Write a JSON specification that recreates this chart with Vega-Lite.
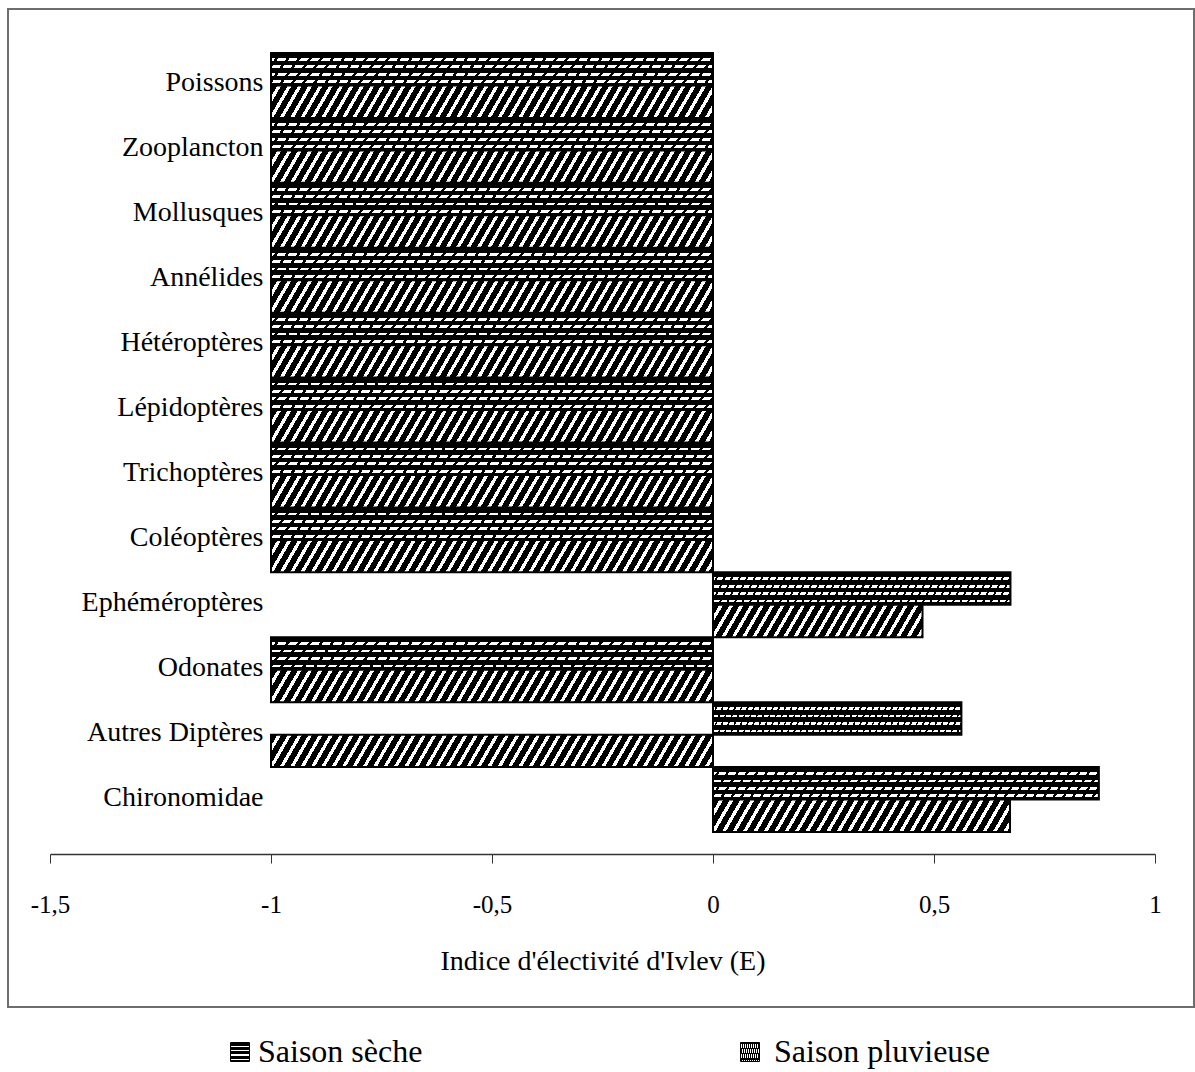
{
  "$schema": "https://vega.github.io/schema/vega-lite/v6.json",
  "autosize": {"type": "none"},
  "width": 1186,
  "height": 998,
  "padding": {"left": 8, "top": 9, "right": 1, "bottom": 65},
  "background": "#ffffff",
  "config": {
    "font": "Liberation Serif",
    "view": {"stroke": "#6e6e6e", "strokeWidth": 2},
    "axis": {"labelFont": "Liberation Serif", "titleFont": "Liberation Serif", "labelColor": "#000", "titleColor": "#000"},
    "legend": {"labelFont": "Liberation Serif", "labelColor": "#000"}
  },
  "data": {
    "values": [
      {"Categorie": "Poissons", "Saison": "Saison sèche", "E": -1},
      {"Categorie": "Poissons", "Saison": "Saison pluvieuse", "E": -1},
      {"Categorie": "Zooplancton", "Saison": "Saison sèche", "E": -1},
      {"Categorie": "Zooplancton", "Saison": "Saison pluvieuse", "E": -1},
      {"Categorie": "Mollusques", "Saison": "Saison sèche", "E": -1},
      {"Categorie": "Mollusques", "Saison": "Saison pluvieuse", "E": -1},
      {"Categorie": "Annélides", "Saison": "Saison sèche", "E": -1},
      {"Categorie": "Annélides", "Saison": "Saison pluvieuse", "E": -1},
      {"Categorie": "Hétéroptères", "Saison": "Saison sèche", "E": -1},
      {"Categorie": "Hétéroptères", "Saison": "Saison pluvieuse", "E": -1},
      {"Categorie": "Lépidoptères", "Saison": "Saison sèche", "E": -1},
      {"Categorie": "Lépidoptères", "Saison": "Saison pluvieuse", "E": -1},
      {"Categorie": "Trichoptères", "Saison": "Saison sèche", "E": -1},
      {"Categorie": "Trichoptères", "Saison": "Saison pluvieuse", "E": -1},
      {"Categorie": "Coléoptères", "Saison": "Saison sèche", "E": -1},
      {"Categorie": "Coléoptères", "Saison": "Saison pluvieuse", "E": -1},
      {"Categorie": "Ephéméroptères", "Saison": "Saison sèche", "E": 0.673},
      {"Categorie": "Ephéméroptères", "Saison": "Saison pluvieuse", "E": 0.474},
      {"Categorie": "Odonates", "Saison": "Saison sèche", "E": -1},
      {"Categorie": "Odonates", "Saison": "Saison pluvieuse", "E": -1},
      {"Categorie": "Autres Diptères", "Saison": "Saison sèche", "E": 0.562},
      {"Categorie": "Autres Diptères", "Saison": "Saison pluvieuse", "E": -1},
      {"Categorie": "Chironomidae", "Saison": "Saison sèche", "E": 0.873},
      {"Categorie": "Chironomidae", "Saison": "Saison pluvieuse", "E": 0.672}
    ]
  },
  "encoding": {
    "y": {
      "field": "Categorie", "type": "nominal",
      "sort": ["Poissons", "Zooplancton", "Mollusques", "Annélides", "Hétéroptères", "Lépidoptères", "Trichoptères", "Coléoptères", "Ephéméroptères", "Odonates", "Autres Diptères", "Chironomidae"],
      "scale": {"domain": ["Poissons", "Zooplancton", "Mollusques", "Annélides", "Hétéroptères", "Lépidoptères", "Trichoptères", "Coléoptères", "Ephéméroptères", "Odonates", "Autres Diptères", "Chironomidae"], "range": [44, 823], "paddingInner": 0, "paddingOuter": 0},
      "axis": {"title": null, "domain": false, "ticks": false, "labelPadding": 0, "offset": -255, "labelFontSize": 28, "labelLimit": 0, "labelBaseline": "middle", "labelAlign": "right", "labelOffset": -2}
    },
    "yOffset": {
      "field": "Saison", "type": "nominal",
      "scale": {"domain": ["Saison sèche", "Saison pluvieuse"], "paddingInner": 0, "paddingOuter": 0}
    },
    "x": {
      "field": "E", "type": "quantitative",
      "scale": {"domain": [-1.5, 1], "range": [42, 1147], "nice": false, "zero": false},
      "axis": {
        "title": "Indice d'électivité d'Ivlev (E)",
        "titleFontSize": 28, "titleFontWeight": "normal", "titlePadding": 30,
        "values": [-1.5, -1, -0.5, 0, 0.5, 1],
        "labelExpr": "replace(toString(datum.value), '.', ',')",
        "labelFontSize": 25, "labelPadding": 29, "labelFlush": false,
        "tickSize": 9, "tickColor": "#333", "domainColor": "#333", "domainWidth": 1.5,
        "grid": false, "offset": -153
      }
    },
    "x2": {"datum": 0}
  },
  "layer": [
    {
      "transform": [{"filter": "datum.Saison === 'Saison sèche'"}],
      "mark": {"type": "bar", "strokeWidth": 2},
      "encoding": {
        "fill": {"value": {"gradient": "linear", "x1": 0, "y1": 0, "x2": 0, "y2": 1, "stops": [{"offset":0,"color":"#000"},{"offset":0.158,"color":"#000"},{"offset":0.158,"color":"#fff"},{"offset":0.243,"color":"#fff"},{"offset":0.243,"color":"#000"},{"offset":0.383,"color":"#000"},{"offset":0.383,"color":"#fff"},{"offset":0.468,"color":"#fff"},{"offset":0.468,"color":"#000"},{"offset":0.613,"color":"#000"},{"offset":0.613,"color":"#fff"},{"offset":0.698,"color":"#fff"},{"offset":0.698,"color":"#000"},{"offset":0.843,"color":"#000"},{"offset":0.843,"color":"#fff"},{"offset":0.928,"color":"#fff"},{"offset":0.928,"color":"#000"},{"offset":1,"color":"#000"}]}},
        "stroke": {
          "field": "Saison", "type": "nominal",
          "scale": {"range": ["#000"]},
          "legend": {
            "orient": "none", "legendX": 216, "legendY": 1027, "direction": "horizontal",
            "title": null, "symbolType": "square", "symbolSize": 361, "symbolStrokeWidth": 1,
            "labelFontSize": 32, "labelOffset": 2, "labelLimit": 0, "padding": 0,
            "encode": {
              "symbols": {
                "fill": {"value": {"gradient": "linear", "x1": 0, "y1": 0, "x2": 0, "y2": 1, "stops": [{"offset":0,"color":"#000"},{"offset":0.2,"color":"#000"},{"offset":0.2,"color":"#fff"},{"offset":0.3,"color":"#fff"},{"offset":0.3,"color":"#000"},{"offset":0.45,"color":"#000"},{"offset":0.45,"color":"#fff"},{"offset":0.55,"color":"#fff"},{"offset":0.55,"color":"#000"},{"offset":0.7,"color":"#000"},{"offset":0.7,"color":"#fff"},{"offset":0.8,"color":"#fff"},{"offset":0.8,"color":"#000"},{"offset":1,"color":"#000"}]}}
              }
            }
          }
        }
      }
    },
    {
      "transform": [{"filter": "datum.Saison === 'Saison sèche'"}],
      "mark": {"type": "bar", "strokeWidth": 0},
      "encoding": {
        "fill": {"value": {"gradient": "linear", "x1": 0, "y1": 0, "x2": 1.0507, "y2": 0.0564, "stops": [
          {"offset":0,"color":"rgba(0,0,0,0)"},{"offset":0.0175,"color":"rgba(0,0,0,0)"},{"offset":0.0175,"color":"#000"},{"offset":0.024,"color":"#000"},
          {"offset":0.024,"color":"rgba(0,0,0,0)"},{"offset":0.0415,"color":"rgba(0,0,0,0)"},{"offset":0.0415,"color":"#000"},{"offset":0.048,"color":"#000"},
          {"offset":0.048,"color":"rgba(0,0,0,0)"},{"offset":0.0655,"color":"rgba(0,0,0,0)"},{"offset":0.0655,"color":"#000"},{"offset":0.072,"color":"#000"},
          {"offset":0.072,"color":"rgba(0,0,0,0)"},{"offset":0.0895,"color":"rgba(0,0,0,0)"},{"offset":0.0895,"color":"#000"},{"offset":0.096,"color":"#000"},
          {"offset":0.096,"color":"rgba(0,0,0,0)"},{"offset":0.1135,"color":"rgba(0,0,0,0)"},{"offset":0.1135,"color":"#000"},{"offset":0.12,"color":"#000"},
          {"offset":0.12,"color":"rgba(0,0,0,0)"},{"offset":0.1375,"color":"rgba(0,0,0,0)"},{"offset":0.1375,"color":"#000"},{"offset":0.144,"color":"#000"},
          {"offset":0.144,"color":"rgba(0,0,0,0)"},{"offset":0.1615,"color":"rgba(0,0,0,0)"},{"offset":0.1615,"color":"#000"},{"offset":0.168,"color":"#000"},
          {"offset":0.168,"color":"rgba(0,0,0,0)"},{"offset":0.1855,"color":"rgba(0,0,0,0)"},{"offset":0.1855,"color":"#000"},{"offset":0.192,"color":"#000"},
          {"offset":0.192,"color":"rgba(0,0,0,0)"},{"offset":0.2095,"color":"rgba(0,0,0,0)"},{"offset":0.2095,"color":"#000"},{"offset":0.216,"color":"#000"},
          {"offset":0.216,"color":"rgba(0,0,0,0)"},{"offset":0.2335,"color":"rgba(0,0,0,0)"},{"offset":0.2335,"color":"#000"},{"offset":0.24,"color":"#000"},
          {"offset":0.24,"color":"rgba(0,0,0,0)"},{"offset":0.2575,"color":"rgba(0,0,0,0)"},{"offset":0.2575,"color":"#000"},{"offset":0.264,"color":"#000"},
          {"offset":0.264,"color":"rgba(0,0,0,0)"},{"offset":0.2815,"color":"rgba(0,0,0,0)"},{"offset":0.2815,"color":"#000"},{"offset":0.288,"color":"#000"},
          {"offset":0.288,"color":"rgba(0,0,0,0)"},{"offset":0.3055,"color":"rgba(0,0,0,0)"},{"offset":0.3055,"color":"#000"},{"offset":0.312,"color":"#000"},
          {"offset":0.312,"color":"rgba(0,0,0,0)"},{"offset":0.3295,"color":"rgba(0,0,0,0)"},{"offset":0.3295,"color":"#000"},{"offset":0.336,"color":"#000"},
          {"offset":0.336,"color":"rgba(0,0,0,0)"},{"offset":0.3535,"color":"rgba(0,0,0,0)"},{"offset":0.3535,"color":"#000"},{"offset":0.36,"color":"#000"},
          {"offset":0.36,"color":"rgba(0,0,0,0)"},{"offset":0.3775,"color":"rgba(0,0,0,0)"},{"offset":0.3775,"color":"#000"},{"offset":0.384,"color":"#000"},
          {"offset":0.384,"color":"rgba(0,0,0,0)"},{"offset":0.4015,"color":"rgba(0,0,0,0)"},{"offset":0.4015,"color":"#000"},{"offset":0.408,"color":"#000"},
          {"offset":0.408,"color":"rgba(0,0,0,0)"},{"offset":0.4255,"color":"rgba(0,0,0,0)"},{"offset":0.4255,"color":"#000"},{"offset":0.432,"color":"#000"},
          {"offset":0.432,"color":"rgba(0,0,0,0)"},{"offset":0.4495,"color":"rgba(0,0,0,0)"},{"offset":0.4495,"color":"#000"},{"offset":0.456,"color":"#000"},
          {"offset":0.456,"color":"rgba(0,0,0,0)"},{"offset":0.4735,"color":"rgba(0,0,0,0)"},{"offset":0.4735,"color":"#000"},{"offset":0.48,"color":"#000"},
          {"offset":0.48,"color":"rgba(0,0,0,0)"},{"offset":0.4975,"color":"rgba(0,0,0,0)"},{"offset":0.4975,"color":"#000"},{"offset":0.504,"color":"#000"},
          {"offset":0.504,"color":"rgba(0,0,0,0)"},{"offset":0.5215,"color":"rgba(0,0,0,0)"},{"offset":0.5215,"color":"#000"},{"offset":0.528,"color":"#000"},
          {"offset":0.528,"color":"rgba(0,0,0,0)"},{"offset":0.5455,"color":"rgba(0,0,0,0)"},{"offset":0.5455,"color":"#000"},{"offset":0.552,"color":"#000"},
          {"offset":0.552,"color":"rgba(0,0,0,0)"},{"offset":0.5695,"color":"rgba(0,0,0,0)"},{"offset":0.5695,"color":"#000"},{"offset":0.576,"color":"#000"},
          {"offset":0.576,"color":"rgba(0,0,0,0)"},{"offset":0.5935,"color":"rgba(0,0,0,0)"},{"offset":0.5935,"color":"#000"},{"offset":0.6,"color":"#000"},
          {"offset":0.6,"color":"rgba(0,0,0,0)"},{"offset":0.6175,"color":"rgba(0,0,0,0)"},{"offset":0.6175,"color":"#000"},{"offset":0.624,"color":"#000"},
          {"offset":0.624,"color":"rgba(0,0,0,0)"},{"offset":0.6415,"color":"rgba(0,0,0,0)"},{"offset":0.6415,"color":"#000"},{"offset":0.648,"color":"#000"},
          {"offset":0.648,"color":"rgba(0,0,0,0)"},{"offset":0.6655,"color":"rgba(0,0,0,0)"},{"offset":0.6655,"color":"#000"},{"offset":0.672,"color":"#000"},
          {"offset":0.672,"color":"rgba(0,0,0,0)"},{"offset":0.6895,"color":"rgba(0,0,0,0)"},{"offset":0.6895,"color":"#000"},{"offset":0.696,"color":"#000"},
          {"offset":0.696,"color":"rgba(0,0,0,0)"},{"offset":0.7135,"color":"rgba(0,0,0,0)"},{"offset":0.7135,"color":"#000"},{"offset":0.72,"color":"#000"},
          {"offset":0.72,"color":"rgba(0,0,0,0)"},{"offset":0.7375,"color":"rgba(0,0,0,0)"},{"offset":0.7375,"color":"#000"},{"offset":0.744,"color":"#000"},
          {"offset":0.744,"color":"rgba(0,0,0,0)"},{"offset":0.7615,"color":"rgba(0,0,0,0)"},{"offset":0.7615,"color":"#000"},{"offset":0.768,"color":"#000"},
          {"offset":0.768,"color":"rgba(0,0,0,0)"},{"offset":0.7855,"color":"rgba(0,0,0,0)"},{"offset":0.7855,"color":"#000"},{"offset":0.792,"color":"#000"},
          {"offset":0.792,"color":"rgba(0,0,0,0)"},{"offset":0.8095,"color":"rgba(0,0,0,0)"},{"offset":0.8095,"color":"#000"},{"offset":0.816,"color":"#000"},
          {"offset":0.816,"color":"rgba(0,0,0,0)"},{"offset":0.8335,"color":"rgba(0,0,0,0)"},{"offset":0.8335,"color":"#000"},{"offset":0.84,"color":"#000"},
          {"offset":0.84,"color":"rgba(0,0,0,0)"},{"offset":0.8575,"color":"rgba(0,0,0,0)"},{"offset":0.8575,"color":"#000"},{"offset":0.864,"color":"#000"},
          {"offset":0.864,"color":"rgba(0,0,0,0)"},{"offset":0.8815,"color":"rgba(0,0,0,0)"},{"offset":0.8815,"color":"#000"},{"offset":0.888,"color":"#000"},
          {"offset":0.888,"color":"rgba(0,0,0,0)"},{"offset":0.9055,"color":"rgba(0,0,0,0)"},{"offset":0.9055,"color":"#000"},{"offset":0.912,"color":"#000"},
          {"offset":0.912,"color":"rgba(0,0,0,0)"},{"offset":0.9295,"color":"rgba(0,0,0,0)"},{"offset":0.9295,"color":"#000"},{"offset":0.936,"color":"#000"},
          {"offset":0.936,"color":"rgba(0,0,0,0)"},{"offset":0.9535,"color":"rgba(0,0,0,0)"},{"offset":0.9535,"color":"#000"},{"offset":0.96,"color":"#000"},
          {"offset":0.96,"color":"rgba(0,0,0,0)"},{"offset":0.9775,"color":"rgba(0,0,0,0)"},{"offset":0.9775,"color":"#000"},{"offset":0.984,"color":"#000"},
          {"offset":0.984,"color":"rgba(0,0,0,0)"},{"offset":1,"color":"rgba(0,0,0,0)"}
        ]}}
      }
    },
    {
      "transform": [{"filter": "datum.Saison === 'Saison pluvieuse'"}],
      "mark": {"type": "bar", "strokeWidth": 2},
      "encoding": {
        "stroke": {
          "field": "Saison", "type": "nominal",
          "scale": {"range": ["#000"]},
          "legend": {
            "orient": "none", "legendX": 726, "legendY": 1027, "direction": "horizontal",
            "title": null, "symbolType": "square", "symbolSize": 361, "symbolStrokeWidth": 1,
            "labelFontSize": 32, "labelOffset": 8, "labelLimit": 0, "padding": 0,
            "encode": {
              "symbols": {
                "fill": {"value": {"gradient": "linear", "x1": 0, "y1": 0, "x2": 1, "y2": 1, "stops": [{"offset":0,"color":"#000"},{"offset":0.27,"color":"#000"},{"offset":0.27,"color":"#fff"},{"offset":0.4,"color":"#fff"},{"offset":0.4,"color":"#000"},{"offset":0.6,"color":"#000"},{"offset":0.6,"color":"#fff"},{"offset":0.73,"color":"#fff"},{"offset":0.73,"color":"#000"},{"offset":1,"color":"#000"}]}}
              }
            }
          }
        },
        "fill": {
          "condition": [
            {
              "test": "datum.E < 0",
              "value": {"gradient": "linear", "x1": 0, "y1": 0, "x2": 1.0406, "y2": 0.0442, "stops": [
                {"offset":0,"color":"#000"},{"offset":0.0142,"color":"#000"},{"offset":0.0142,"color":"#fff"},{"offset":0.0225,"color":"#fff"},
                {"offset":0.0225,"color":"#000"},{"offset":0.0367,"color":"#000"},{"offset":0.0367,"color":"#fff"},{"offset":0.045,"color":"#fff"},
                {"offset":0.045,"color":"#000"},{"offset":0.0592,"color":"#000"},{"offset":0.0592,"color":"#fff"},{"offset":0.0675,"color":"#fff"},
                {"offset":0.0675,"color":"#000"},{"offset":0.0817,"color":"#000"},{"offset":0.0817,"color":"#fff"},{"offset":0.09,"color":"#fff"},
                {"offset":0.09,"color":"#000"},{"offset":0.1042,"color":"#000"},{"offset":0.1042,"color":"#fff"},{"offset":0.1125,"color":"#fff"},
                {"offset":0.1125,"color":"#000"},{"offset":0.1267,"color":"#000"},{"offset":0.1267,"color":"#fff"},{"offset":0.135,"color":"#fff"},
                {"offset":0.135,"color":"#000"},{"offset":0.1492,"color":"#000"},{"offset":0.1492,"color":"#fff"},{"offset":0.1575,"color":"#fff"},
                {"offset":0.1575,"color":"#000"},{"offset":0.1717,"color":"#000"},{"offset":0.1717,"color":"#fff"},{"offset":0.18,"color":"#fff"},
                {"offset":0.18,"color":"#000"},{"offset":0.1942,"color":"#000"},{"offset":0.1942,"color":"#fff"},{"offset":0.2025,"color":"#fff"},
                {"offset":0.2025,"color":"#000"},{"offset":0.2167,"color":"#000"},{"offset":0.2167,"color":"#fff"},{"offset":0.225,"color":"#fff"},
                {"offset":0.225,"color":"#000"},{"offset":0.2392,"color":"#000"},{"offset":0.2392,"color":"#fff"},{"offset":0.2475,"color":"#fff"},
                {"offset":0.2475,"color":"#000"},{"offset":0.2617,"color":"#000"},{"offset":0.2617,"color":"#fff"},{"offset":0.27,"color":"#fff"},
                {"offset":0.27,"color":"#000"},{"offset":0.2842,"color":"#000"},{"offset":0.2842,"color":"#fff"},{"offset":0.2925,"color":"#fff"},
                {"offset":0.2925,"color":"#000"},{"offset":0.3067,"color":"#000"},{"offset":0.3067,"color":"#fff"},{"offset":0.315,"color":"#fff"},
                {"offset":0.315,"color":"#000"},{"offset":0.3292,"color":"#000"},{"offset":0.3292,"color":"#fff"},{"offset":0.3375,"color":"#fff"},
                {"offset":0.3375,"color":"#000"},{"offset":0.3517,"color":"#000"},{"offset":0.3517,"color":"#fff"},{"offset":0.36,"color":"#fff"},
                {"offset":0.36,"color":"#000"},{"offset":0.3742,"color":"#000"},{"offset":0.3742,"color":"#fff"},{"offset":0.3825,"color":"#fff"},
                {"offset":0.3825,"color":"#000"},{"offset":0.3967,"color":"#000"},{"offset":0.3967,"color":"#fff"},{"offset":0.405,"color":"#fff"},
                {"offset":0.405,"color":"#000"},{"offset":0.4192,"color":"#000"},{"offset":0.4192,"color":"#fff"},{"offset":0.4275,"color":"#fff"},
                {"offset":0.4275,"color":"#000"},{"offset":0.4417,"color":"#000"},{"offset":0.4417,"color":"#fff"},{"offset":0.45,"color":"#fff"},
                {"offset":0.45,"color":"#000"},{"offset":0.4642,"color":"#000"},{"offset":0.4642,"color":"#fff"},{"offset":0.4725,"color":"#fff"},
                {"offset":0.4725,"color":"#000"},{"offset":0.4867,"color":"#000"},{"offset":0.4867,"color":"#fff"},{"offset":0.495,"color":"#fff"},
                {"offset":0.495,"color":"#000"},{"offset":0.5092,"color":"#000"},{"offset":0.5092,"color":"#fff"},{"offset":0.5175,"color":"#fff"},
                {"offset":0.5175,"color":"#000"},{"offset":0.5317,"color":"#000"},{"offset":0.5317,"color":"#fff"},{"offset":0.54,"color":"#fff"},
                {"offset":0.54,"color":"#000"},{"offset":0.5542,"color":"#000"},{"offset":0.5542,"color":"#fff"},{"offset":0.5625,"color":"#fff"},
                {"offset":0.5625,"color":"#000"},{"offset":0.5767,"color":"#000"},{"offset":0.5767,"color":"#fff"},{"offset":0.585,"color":"#fff"},
                {"offset":0.585,"color":"#000"},{"offset":0.5992,"color":"#000"},{"offset":0.5992,"color":"#fff"},{"offset":0.6075,"color":"#fff"},
                {"offset":0.6075,"color":"#000"},{"offset":0.6217,"color":"#000"},{"offset":0.6217,"color":"#fff"},{"offset":0.63,"color":"#fff"},
                {"offset":0.63,"color":"#000"},{"offset":0.6442,"color":"#000"},{"offset":0.6442,"color":"#fff"},{"offset":0.6525,"color":"#fff"},
                {"offset":0.6525,"color":"#000"},{"offset":0.6667,"color":"#000"},{"offset":0.6667,"color":"#fff"},{"offset":0.675,"color":"#fff"},
                {"offset":0.675,"color":"#000"},{"offset":0.6892,"color":"#000"},{"offset":0.6892,"color":"#fff"},{"offset":0.6975,"color":"#fff"},
                {"offset":0.6975,"color":"#000"},{"offset":0.7117,"color":"#000"},{"offset":0.7117,"color":"#fff"},{"offset":0.72,"color":"#fff"},
                {"offset":0.72,"color":"#000"},{"offset":0.7342,"color":"#000"},{"offset":0.7342,"color":"#fff"},{"offset":0.7425,"color":"#fff"},
                {"offset":0.7425,"color":"#000"},{"offset":0.7567,"color":"#000"},{"offset":0.7567,"color":"#fff"},{"offset":0.765,"color":"#fff"},
                {"offset":0.765,"color":"#000"},{"offset":0.7792,"color":"#000"},{"offset":0.7792,"color":"#fff"},{"offset":0.7875,"color":"#fff"},
                {"offset":0.7875,"color":"#000"},{"offset":0.8017,"color":"#000"},{"offset":0.8017,"color":"#fff"},{"offset":0.81,"color":"#fff"},
                {"offset":0.81,"color":"#000"},{"offset":0.8242,"color":"#000"},{"offset":0.8242,"color":"#fff"},{"offset":0.8325,"color":"#fff"},
                {"offset":0.8325,"color":"#000"},{"offset":0.8467,"color":"#000"},{"offset":0.8467,"color":"#fff"},{"offset":0.855,"color":"#fff"},
                {"offset":0.855,"color":"#000"},{"offset":0.8692,"color":"#000"},{"offset":0.8692,"color":"#fff"},{"offset":0.8775,"color":"#fff"},
                {"offset":0.8775,"color":"#000"},{"offset":0.8917,"color":"#000"},{"offset":0.8917,"color":"#fff"},{"offset":0.9,"color":"#fff"},
                {"offset":0.9,"color":"#000"},{"offset":0.9142,"color":"#000"},{"offset":0.9142,"color":"#fff"},{"offset":0.9225,"color":"#fff"},
                {"offset":0.9225,"color":"#000"},{"offset":0.9367,"color":"#000"},{"offset":0.9367,"color":"#fff"},{"offset":0.945,"color":"#fff"},
                {"offset":0.945,"color":"#000"},{"offset":0.9592,"color":"#000"},{"offset":0.9592,"color":"#fff"},{"offset":0.9675,"color":"#fff"},
                {"offset":0.9675,"color":"#000"},{"offset":0.9817,"color":"#000"},{"offset":0.9817,"color":"#fff"},{"offset":0.99,"color":"#fff"},
                {"offset":0.99,"color":"#000"},{"offset":1,"color":"#000"}
              ]}
            },
            {
              "test": "datum.E < 0.55",
              "value": {"gradient": "linear", "x1": 0, "y1": 0, "x2": 1.0811, "y2": 0.0971, "stops": [
                {"offset":0,"color":"#000"},{"offset":0.0284,"color":"#000"},{"offset":0.0284,"color":"#fff"},{"offset":0.045,"color":"#fff"},
                {"offset":0.045,"color":"#000"},{"offset":0.0734,"color":"#000"},{"offset":0.0734,"color":"#fff"},{"offset":0.09,"color":"#fff"},
                {"offset":0.09,"color":"#000"},{"offset":0.1184,"color":"#000"},{"offset":0.1184,"color":"#fff"},{"offset":0.135,"color":"#fff"},
                {"offset":0.135,"color":"#000"},{"offset":0.1634,"color":"#000"},{"offset":0.1634,"color":"#fff"},{"offset":0.18,"color":"#fff"},
                {"offset":0.18,"color":"#000"},{"offset":0.2084,"color":"#000"},{"offset":0.2084,"color":"#fff"},{"offset":0.225,"color":"#fff"},
                {"offset":0.225,"color":"#000"},{"offset":0.2534,"color":"#000"},{"offset":0.2534,"color":"#fff"},{"offset":0.27,"color":"#fff"},
                {"offset":0.27,"color":"#000"},{"offset":0.2984,"color":"#000"},{"offset":0.2984,"color":"#fff"},{"offset":0.315,"color":"#fff"},
                {"offset":0.315,"color":"#000"},{"offset":0.3434,"color":"#000"},{"offset":0.3434,"color":"#fff"},{"offset":0.36,"color":"#fff"},
                {"offset":0.36,"color":"#000"},{"offset":0.3884,"color":"#000"},{"offset":0.3884,"color":"#fff"},{"offset":0.405,"color":"#fff"},
                {"offset":0.405,"color":"#000"},{"offset":0.4334,"color":"#000"},{"offset":0.4334,"color":"#fff"},{"offset":0.45,"color":"#fff"},
                {"offset":0.45,"color":"#000"},{"offset":0.4784,"color":"#000"},{"offset":0.4784,"color":"#fff"},{"offset":0.495,"color":"#fff"},
                {"offset":0.495,"color":"#000"},{"offset":0.5234,"color":"#000"},{"offset":0.5234,"color":"#fff"},{"offset":0.54,"color":"#fff"},
                {"offset":0.54,"color":"#000"},{"offset":0.5684,"color":"#000"},{"offset":0.5684,"color":"#fff"},{"offset":0.585,"color":"#fff"},
                {"offset":0.585,"color":"#000"},{"offset":0.6134,"color":"#000"},{"offset":0.6134,"color":"#fff"},{"offset":0.63,"color":"#fff"},
                {"offset":0.63,"color":"#000"},{"offset":0.6584,"color":"#000"},{"offset":0.6584,"color":"#fff"},{"offset":0.675,"color":"#fff"},
                {"offset":0.675,"color":"#000"},{"offset":0.7034,"color":"#000"},{"offset":0.7034,"color":"#fff"},{"offset":0.72,"color":"#fff"},
                {"offset":0.72,"color":"#000"},{"offset":0.7484,"color":"#000"},{"offset":0.7484,"color":"#fff"},{"offset":0.765,"color":"#fff"},
                {"offset":0.765,"color":"#000"},{"offset":0.7934,"color":"#000"},{"offset":0.7934,"color":"#fff"},{"offset":0.81,"color":"#fff"},
                {"offset":0.81,"color":"#000"},{"offset":0.8384,"color":"#000"},{"offset":0.8384,"color":"#fff"},{"offset":0.855,"color":"#fff"},
                {"offset":0.855,"color":"#000"},{"offset":0.8834,"color":"#000"},{"offset":0.8834,"color":"#fff"},{"offset":0.9,"color":"#fff"},
                {"offset":0.9,"color":"#000"},{"offset":0.9284,"color":"#000"},{"offset":0.9284,"color":"#fff"},{"offset":0.945,"color":"#fff"},
                {"offset":0.945,"color":"#000"},{"offset":0.9734,"color":"#000"},{"offset":0.9734,"color":"#fff"},{"offset":0.99,"color":"#fff"},
                {"offset":0.99,"color":"#000"},{"offset":1,"color":"#000"}
              ]}
            }
          ],
          "value": {"gradient": "linear", "x1": 0, "y1": 0, "x2": 1.059, "y2": 0.0669, "stops": [
            {"offset":0,"color":"#000"},{"offset":0.0208,"color":"#000"},{"offset":0.0208,"color":"#fff"},{"offset":0.033,"color":"#fff"},
            {"offset":0.033,"color":"#000"},{"offset":0.0538,"color":"#000"},{"offset":0.0538,"color":"#fff"},{"offset":0.066,"color":"#fff"},
            {"offset":0.066,"color":"#000"},{"offset":0.0868,"color":"#000"},{"offset":0.0868,"color":"#fff"},{"offset":0.099,"color":"#fff"},
            {"offset":0.099,"color":"#000"},{"offset":0.1198,"color":"#000"},{"offset":0.1198,"color":"#fff"},{"offset":0.132,"color":"#fff"},
            {"offset":0.132,"color":"#000"},{"offset":0.1528,"color":"#000"},{"offset":0.1528,"color":"#fff"},{"offset":0.165,"color":"#fff"},
            {"offset":0.165,"color":"#000"},{"offset":0.1858,"color":"#000"},{"offset":0.1858,"color":"#fff"},{"offset":0.198,"color":"#fff"},
            {"offset":0.198,"color":"#000"},{"offset":0.2188,"color":"#000"},{"offset":0.2188,"color":"#fff"},{"offset":0.231,"color":"#fff"},
            {"offset":0.231,"color":"#000"},{"offset":0.2518,"color":"#000"},{"offset":0.2518,"color":"#fff"},{"offset":0.264,"color":"#fff"},
            {"offset":0.264,"color":"#000"},{"offset":0.2848,"color":"#000"},{"offset":0.2848,"color":"#fff"},{"offset":0.297,"color":"#fff"},
            {"offset":0.297,"color":"#000"},{"offset":0.3178,"color":"#000"},{"offset":0.3178,"color":"#fff"},{"offset":0.33,"color":"#fff"},
            {"offset":0.33,"color":"#000"},{"offset":0.3508,"color":"#000"},{"offset":0.3508,"color":"#fff"},{"offset":0.363,"color":"#fff"},
            {"offset":0.363,"color":"#000"},{"offset":0.3838,"color":"#000"},{"offset":0.3838,"color":"#fff"},{"offset":0.396,"color":"#fff"},
            {"offset":0.396,"color":"#000"},{"offset":0.4168,"color":"#000"},{"offset":0.4168,"color":"#fff"},{"offset":0.429,"color":"#fff"},
            {"offset":0.429,"color":"#000"},{"offset":0.4498,"color":"#000"},{"offset":0.4498,"color":"#fff"},{"offset":0.462,"color":"#fff"},
            {"offset":0.462,"color":"#000"},{"offset":0.4828,"color":"#000"},{"offset":0.4828,"color":"#fff"},{"offset":0.495,"color":"#fff"},
            {"offset":0.495,"color":"#000"},{"offset":0.5158,"color":"#000"},{"offset":0.5158,"color":"#fff"},{"offset":0.528,"color":"#fff"},
            {"offset":0.528,"color":"#000"},{"offset":0.5488,"color":"#000"},{"offset":0.5488,"color":"#fff"},{"offset":0.561,"color":"#fff"},
            {"offset":0.561,"color":"#000"},{"offset":0.5818,"color":"#000"},{"offset":0.5818,"color":"#fff"},{"offset":0.594,"color":"#fff"},
            {"offset":0.594,"color":"#000"},{"offset":0.6148,"color":"#000"},{"offset":0.6148,"color":"#fff"},{"offset":0.627,"color":"#fff"},
            {"offset":0.627,"color":"#000"},{"offset":0.6478,"color":"#000"},{"offset":0.6478,"color":"#fff"},{"offset":0.66,"color":"#fff"},
            {"offset":0.66,"color":"#000"},{"offset":0.6808,"color":"#000"},{"offset":0.6808,"color":"#fff"},{"offset":0.693,"color":"#fff"},
            {"offset":0.693,"color":"#000"},{"offset":0.7138,"color":"#000"},{"offset":0.7138,"color":"#fff"},{"offset":0.726,"color":"#fff"},
            {"offset":0.726,"color":"#000"},{"offset":0.7468,"color":"#000"},{"offset":0.7468,"color":"#fff"},{"offset":0.759,"color":"#fff"},
            {"offset":0.759,"color":"#000"},{"offset":0.7798,"color":"#000"},{"offset":0.7798,"color":"#fff"},{"offset":0.792,"color":"#fff"},
            {"offset":0.792,"color":"#000"},{"offset":0.8128,"color":"#000"},{"offset":0.8128,"color":"#fff"},{"offset":0.825,"color":"#fff"},
            {"offset":0.825,"color":"#000"},{"offset":0.8458,"color":"#000"},{"offset":0.8458,"color":"#fff"},{"offset":0.858,"color":"#fff"},
            {"offset":0.858,"color":"#000"},{"offset":0.8788,"color":"#000"},{"offset":0.8788,"color":"#fff"},{"offset":0.891,"color":"#fff"},
            {"offset":0.891,"color":"#000"},{"offset":0.9118,"color":"#000"},{"offset":0.9118,"color":"#fff"},{"offset":0.924,"color":"#fff"},
            {"offset":0.924,"color":"#000"},{"offset":0.9448,"color":"#000"},{"offset":0.9448,"color":"#fff"},{"offset":0.957,"color":"#fff"},
            {"offset":0.957,"color":"#000"},{"offset":0.9778,"color":"#000"},{"offset":0.9778,"color":"#fff"},{"offset":0.99,"color":"#fff"},
            {"offset":0.99,"color":"#000"},{"offset":1,"color":"#000"}
          ]}
        }
      }
    }
  ],
  "resolve": {"scale": {"stroke": "independent"}, "legend": {"stroke": "independent"}}
}
